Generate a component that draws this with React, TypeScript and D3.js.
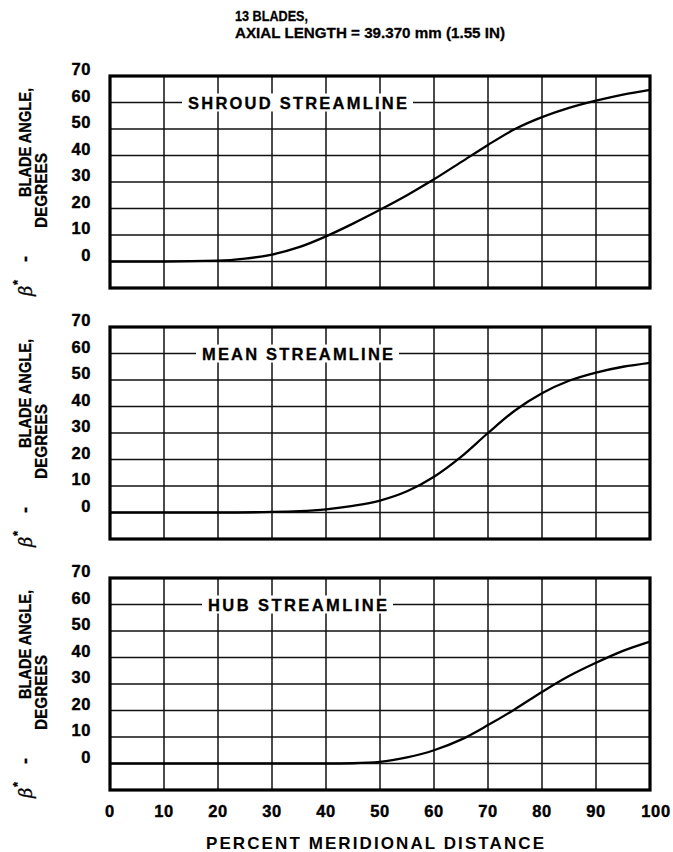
import * as d3 from 'd3';

// Percent meridional distance (x) and blade angle in degrees (y)
const SHROUD_X = [0, 10, 20, 25, 30, 35, 40, 45, 50, 55, 60, 65, 70, 75, 80, 85, 90, 95, 100];
const SHROUD_Y = [0, 0, 0.3, 1.1, 2.6, 5.4, 9.5, 14.3, 19.5, 25, 31, 37.5, 44, 50, 54.5, 58, 60.7, 63, 64.8];

const MEAN_X = [0, 10, 20, 30, 35, 40, 45, 50, 55, 60, 65, 70, 75, 80, 85, 90, 95, 100];
const MEAN_Y = [0, 0, 0, 0.2, 0.5, 1.2, 2.5, 4.5, 8, 13.5, 21, 30, 38.5, 45, 49.7, 52.8, 55, 56.5];

const HUB_X = [0, 10, 20, 30, 40, 45, 50, 55, 60, 65, 70, 75, 80, 85, 90, 95, 100];
const HUB_Y = [0, 0, 0, 0, 0, 0.1, 0.6, 2.3, 5, 9, 14.5, 20.5, 27, 33, 38, 42.5, 46];

const PANEL_NAMES = ['SHROUD STREAMLINE', 'MEAN STREAMLINE', 'HUB STREAMLINE'];
const X_TICKS = [0, 10, 20, 30, 40, 50, 60, 70, 80, 90, 100];
const Y_TICKS = [0, 10, 20, 30, 40, 50, 60, 70];
const HEADER = ['13 BLADES,', 'AXIAL LENGTH = 39.370 mm (1.55 IN)'];
const X_TITLE = 'PERCENT MERIDIONAL DISTANCE';

const SERIES = [
  { xs: SHROUD_X, ys: SHROUD_Y },
  { xs: MEAN_X, ys: MEAN_Y },
  { xs: HUB_X, ys: HUB_Y },
];

// layout
const W = 673;
const H = 852;
const LEFT = 110;
const RIGHT = 650;
const PANEL_TOPS = [76, 327, 578];
const PANEL_H = 212;
// label placement along the 60 gridline: [text start px, text width px]
const LABEL_POS: [number, number][] = [[188, 219], [202, 191], [208, 179]];

const FONT = "'Liberation Sans', Arial, sans-serif";
const NARROW = "'Liberation Sans Narrow', 'Liberation Sans', Arial, sans-serif";

function Panel({ idx }: { idx: number }) {
  const top = PANEL_TOPS[idx];
  const x = d3.scaleLinear().domain([0, 100]).range([LEFT, RIGHT]);
  const y = d3.scaleLinear().domain([-10, 70]).range([top + PANEL_H, top]);
  const s = SERIES[idx];
  const pts: [number, number][] = s.xs.map((v, i) => [v, s.ys[i]]);
  const line = d3.line<[number, number]>()
    .x((d) => x(d[0]))
    .y((d) => y(d[1]))
    .curve(d3.curveMonotoneX);
  const [lx, lw] = LABEL_POS[idx];
  const cy = top + PANEL_H / 2;

  return (
    <g>
      {/* grid */}
      {X_TICKS.filter((t) => t > 0 && t < 100).map((t) => (
        <line key={'v' + t} x1={x(t)} x2={x(t)} y1={top} y2={top + PANEL_H} stroke="#111" strokeWidth={1.5} />
      ))}
      {Y_TICKS.filter((t) => t < 70).map((t) => (
        <line key={'h' + t} x1={LEFT} x2={RIGHT} y1={y(t)} y2={y(t)} stroke="#111" strokeWidth={1.5} />
      ))}

      {/* streamline label breaks the 60 deg gridline */}
      <rect x={lx - 6} y={y(60) - 9} width={lw + 12} height={18} fill="#fff" />
      <text x={lx} y={y(60) + 6} fontFamily={FONT} fontWeight="bold" fontSize={16.5}
        stroke="#000" strokeWidth={0.3}
        textLength={lw} lengthAdjust="spacing" fill="#000">{PANEL_NAMES[idx]}</text>

      <path d={line(pts) || ''} fill="none" stroke="#000" strokeWidth={2.3} />

      <rect x={LEFT} y={top} width={RIGHT - LEFT} height={PANEL_H} fill="none" stroke="#000" strokeWidth={3.2} />

      {/* y ticks */}
      {Y_TICKS.map((t) => (
        <text key={'yl' + t} x={91} y={y(t) - 5} dominantBaseline="middle" textAnchor="end"
          fontFamily={FONT} fontWeight="bold" fontSize={16.5} letterSpacing={0.6}
          stroke="#000" strokeWidth={0.4} fill="#000">{t}</text>
      ))}

      {/* y title */}
      <g transform={`translate(31,${cy}) rotate(-90)`} fontFamily={FONT} fontWeight="bold" fontSize={17}
        stroke="#000" strokeWidth={0.3} fill="#000">
        <text x={-114} y={1} fontStyle="italic" fontFamily="'DejaVu Serif', serif" fontWeight="normal" fontSize={18}>β</text>
        <text x={-103} y={-9} fontSize={13}>*</text>
        <text x={-77} y={0} textAnchor="middle" fontSize={18}>-</text>
        <text x={-15} y={0} textLength={109} lengthAdjust="spacingAndGlyphs">BLADE ANGLE,</text>
      </g>
      <g transform={`translate(47,${cy}) rotate(-90)`} fontFamily={FONT} fontWeight="bold" fontSize={17}
        stroke="#000" strokeWidth={0.3} fill="#000">
        <text x={-46} y={0} textLength={75} lengthAdjust="spacingAndGlyphs">DEGREES</text>
      </g>
    </g>
  );
}

export default function App() {
  const x = d3.scaleLinear().domain([0, 100]).range([LEFT, RIGHT]);
  return (
    <svg width={W} height={H} style={{ position: 'absolute', left: 0, top: 0, background: '#fff' }}>
      <rect width={W} height={H} fill="#fff" />
      <text x={235} y={21} fontFamily={NARROW} fontWeight="bold" fontSize={15.5} textLength={73}
        stroke="#000" strokeWidth={0.3}
        lengthAdjust="spacingAndGlyphs" fill="#000">{HEADER[0]}</text>
      <text x={235} y={38} fontFamily={NARROW} fontWeight="bold" fontSize={15.5} textLength={270}
        stroke="#000" strokeWidth={0.3}
        lengthAdjust="spacingAndGlyphs" fill="#000">{HEADER[1]}</text>

      {PANEL_TOPS.map((_, i) => <Panel key={i} idx={i} />)}

      {X_TICKS.map((t) => (
        <text key={'xl' + t} x={x(t) + (t === 100 ? 6 : 0)} y={817} textAnchor="middle"
          fontFamily={FONT} fontWeight="bold" fontSize={16.5} letterSpacing={0.6}
          stroke="#000" strokeWidth={0.4} fill="#000">{t}</text>
      ))}
      <text x={206} y={849} fontFamily={FONT} fontWeight="bold" fontSize={17}
        textLength={338} lengthAdjust="spacing" fill="#000">{X_TITLE}</text>
    </svg>
  );
}
